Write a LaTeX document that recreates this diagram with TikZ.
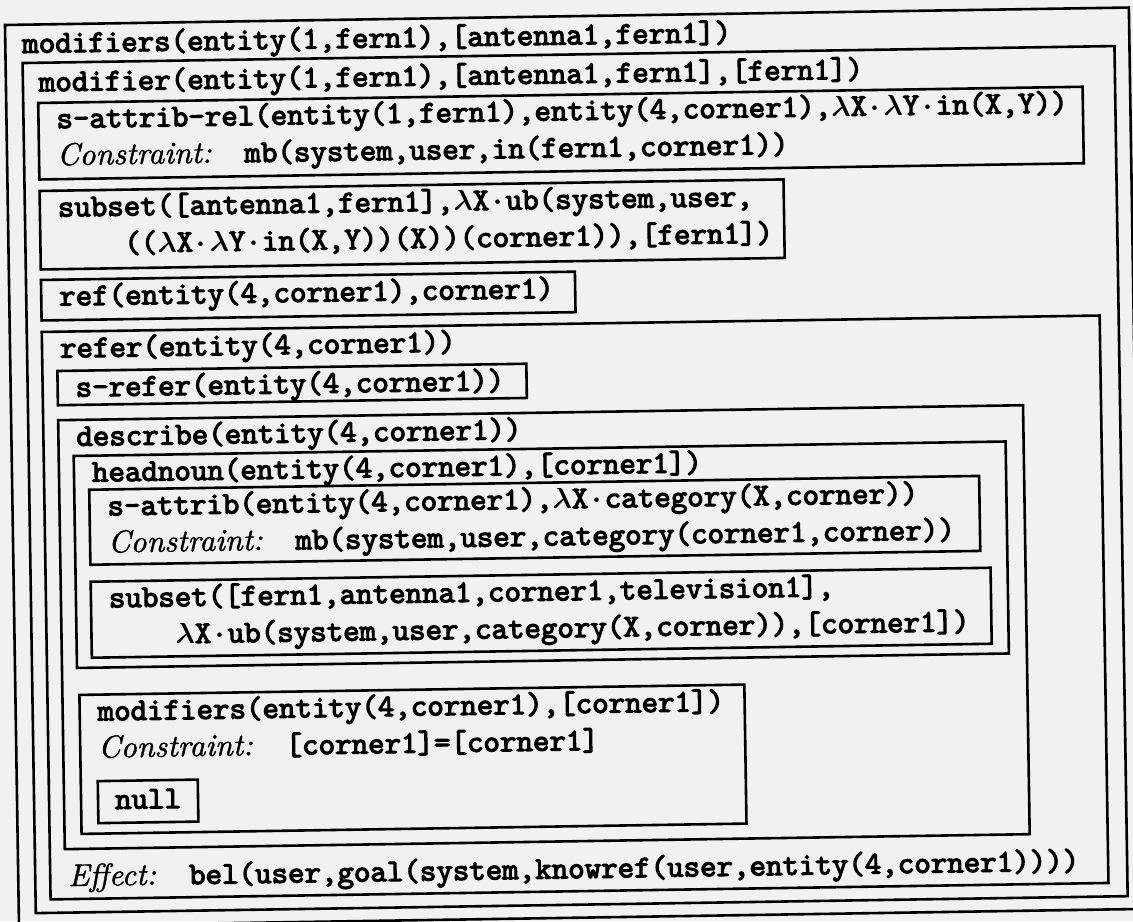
\documentclass[tikz,border=0pt]{standalone}
\usepackage{amsmath}
\usepackage{fontspec}
\newfontfamily\ttb{lmmono10-regular.otf}[FakeBold=3.6]
\newfontfamily\itf{lmroman10-italic.otf}[FakeBold=1.2]
\definecolor{paper}{RGB}{241,241,241}
\newcommand{\mylam}{$\boldsymbol{\lambda}$}
\newcommand{\mydot}{\makebox[0.525em]{$\boldsymbol{\cdot}$}}
\newcommand{\cstr}{{\itf Constraint:}\hspace{1.05em}}
\newcommand{\efct}{{\itf Effect:}\hspace{1.05em}}
\begin{document}
\begin{tikzpicture}[x=0.5pt,y=-0.5pt,
  box/.style={draw=black, line width=1.3pt},
  txt/.style={anchor=base west, inner sep=0pt, outer sep=0pt, transform shape,
    font=\fontsize{15.7}{18}\selectfont\ttb}]
\fill[paper] (0,0) rectangle (1133,921);
\useasboundingbox (0,0) rectangle (1133,921);
\begin{scope}[shift={(5,25)}, rotate=0.89]
% boxes
\draw[box] (0,0) rectangle (1124,901.5);        % modifiers
\draw[box] (17,38.3) rectangle (1109,888.5);    % modifier
\draw[box] (32,78.5) rectangle (1076.5,155);    % s-attrib-rel
\draw[box] (32,166.5) rectangle (776,245);      % subset
\draw[box] (32,255.5) rectangle (566,296);      % ref
\draw[box] (32,307.5) rectangle (1090,875);     % refer
\draw[box] (47,346.8) rectangle (516,381);      % s-refer
\draw[box] (47,396) rectangle (1012,825);       % describe
\draw[box] (62,432) rectangle (994,644);        % headnoun
\draw[box] (77,466) rectangle (967,541);        % s-attrib
\draw[box] (77,558) rectangle (977,634);        % subset
\draw[box] (64,671) rectangle (729,810);        % modifiers
\draw[box] (81,757.5) rectangle (181,799.5);    % null
% texts
\node[txt] (tA) at (17,28.3) {modifiers(entity(1,fern1),[antenna1,fern1])};
\node[txt] (tB) at (33,67) {modifier(entity(1,fern1),[antenna1,fern1],[fern1])};
\node[txt] (tC1) at (50,104) {s-attrib-rel(entity(1,fern1),entity(4,corner1),\mylam X\mydot\mylam Y\mydot in(X,Y))};
\node[txt] (tC2) at (50,141) {\cstr mb(system,user,in(fern1,corner1))};
\node[txt] (tD1) at (50,192.5) {subset([antenna1,fern1],\mylam X\mydot ub(system,user,};
\node[txt] (tD2) at (116,229.5) {((\mylam X\mydot\mylam Y\mydot in(X,Y))(X))(corner1)),[fern1])};
\node[txt] (tE) at (50,281.5) {ref(entity(4,corner1),corner1)};
\node[txt] (tF) at (50,333.5) {refer(entity(4,corner1))};
\node[txt] (tG) at (65,372.8) {s-refer(entity(4,corner1))};
\node[txt] (tH) at (65,422) {describe(entity(4,corner1))};
\node[txt] (tI) at (80,458) {headnoun(entity(4,corner1),[corner1])};
\node[txt] (tJ1) at (95,492) {s-attrib(entity(4,corner1),\mylam X\mydot category(X,corner))};
\node[txt] (tJ2) at (95,529) {\cstr mb(system,user,category(corner1,corner))};
\node[txt] (tK1) at (95,584) {subset([fern1,antenna1,corner1,television1],};
\node[txt] (tK2) at (161,621) {\mylam X\mydot ub(system,user,category(X,corner)),[corner1])};
\node[txt] (tL1) at (82,697) {modifiers(entity(4,corner1),[corner1])};
\node[txt] (tL2) at (82,734) {\cstr [corner1]=[corner1]};
\node[txt] (tM) at (98,785.6) {null};
\node[txt] (tEff) at (50,862) {\efct bel(user,goal(system,knowref(user,entity(4,corner1))))};
\end{scope}
\end{tikzpicture}
\end{document}
